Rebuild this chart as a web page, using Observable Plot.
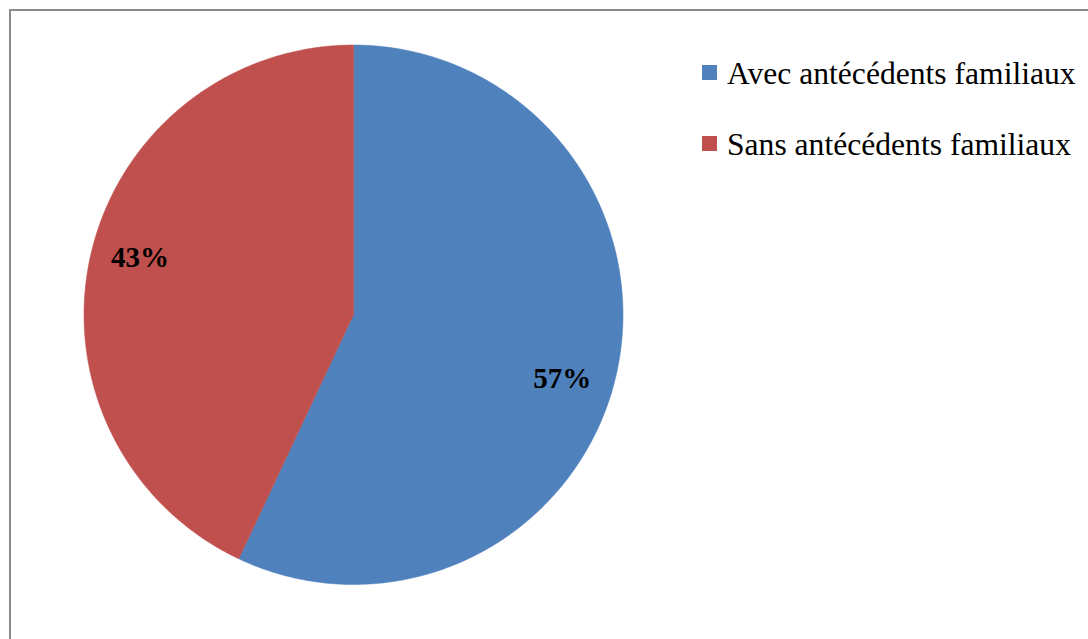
<!DOCTYPE html>
<html>
<head>
<meta charset="utf-8">
<script src="https://cdn.jsdelivr.net/npm/d3@7"></script>
<script src="https://cdn.jsdelivr.net/npm/@observablehq/plot@0.6"></script>
<style>
  html, body { margin: 0; padding: 0; background: #fff; overflow: hidden; }
  #wrap { position: relative; width: 1088px; height: 639px; }
  #frame { position: absolute; left: 9px; top: 9px; width: 1200px; height: 800px;
           border: 2px solid #8c8c8c; box-sizing: border-box; }
  #chart { position: absolute; left: 0; top: 0; }
  .sw { position: absolute; left: 702px; width: 15px; height: 15px; }
  .lt { position: absolute; left: 727px; font-family: 'Liberation Serif'; font-size: 20px; line-height: 20px;
        white-space: nowrap; color: #000; transform: scale(1.58, 1.56); transform-origin: 0 0; }
</style>
</head>
<body>
<div id="wrap">
  <div id="frame"></div>
  <div id="chart"></div>
  <div id="legend"></div>
</div>
<script>
// Data
const categories = ["Avec antécédents familiaux", "Sans antécédents familiaux"];
const values = [57, 43];
const labels = ["57%", "43%"];
const colors = ["#4F81BD", "#C0504D"];

// Slice polygons in unit-circle coordinates (angles clockwise from north)
const total = d3.sum(values);
const slices = [];
let start = 0;
values.forEach((v, i) => {
  const end = start + (v / total) * 2 * Math.PI;
  slices.push({cat: categories[i], start, end});
  start = end;
});
const pts = [];
slices.forEach(s => {
  pts.push({cat: s.cat, x: 0, y: 0});
  const n = Math.max(2, Math.ceil((s.end - s.start) / (Math.PI / 360)));
  for (let k = 0; k <= n; k++) {
    const a = s.start + (s.end - s.start) * k / n;
    pts.push({cat: s.cat, x: Math.sin(a), y: Math.cos(a)});
  }
  pts.push({cat: s.cat, x: 0, y: 0});
});

// Label placement (layout): angle in degrees clockwise from north, radius fraction
const labelLayout = [{deg: 107, r: 0.81}, {deg: 285, r: 0.82}];
const labelData = labels.map((t, i) => {
  const a = labelLayout[i].deg * Math.PI / 180;
  return {text: t, x: labelLayout[i].r * Math.sin(a), y: labelLayout[i].r * Math.cos(a)};
});

const plot = Plot.plot({
  width: 1088,
  height: 639,
  margin: 0,
  style: {background: "transparent"},
  x: {domain: [-1, 1], range: [83.5, 622.5], axis: null},
  y: {domain: [-1, 1], range: [584, 44.5], axis: null},
  color: {domain: categories, range: colors},
  marks: [
    Plot.line(pts, {x: "x", y: "y", z: "cat", fill: "cat", stroke: "cat", strokeWidth: 0.5, curve: "linear"}),
    Plot.text(labelData, {x: "x", y: "y", text: "text", fill: "#000", fontSize: 29, fontWeight: "bold",
      fontFamily: "Liberation Serif"})
  ]
});
document.getElementById("chart").appendChild(plot);

// Legend
const legend = document.getElementById("legend");
const rowGap = 71;
categories.forEach((c, i) => {
  const sw = document.createElement("div");
  sw.className = "sw";
  sw.style.top = (65 + rowGap * i) + "px";
  sw.style.background = colors[i];
  const t = document.createElement("div");
  t.className = "lt";
  t.style.top = (56.5 + rowGap * i) + "px";
  t.textContent = c;
  legend.appendChild(sw);
  legend.appendChild(t);
});
</script>
</body>
</html>
